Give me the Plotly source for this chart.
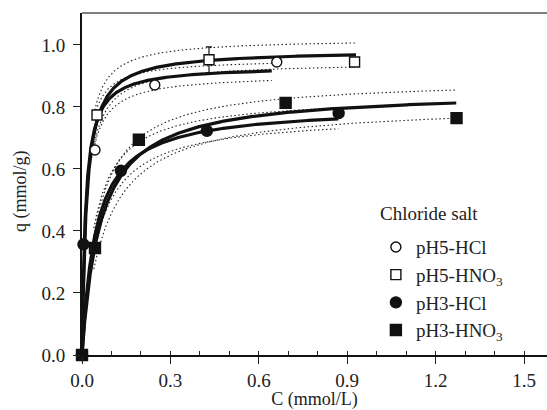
import numpy as np
import plotly.graph_objects as go

# Measured sorption data (C in mmol/L, q in mmol/g)
series_names = ["pH5-HCl", "pH5-HNO<sub>3</sub>", "pH3-HCl", "pH3-HNO<sub>3</sub>"]
legend_title = "Chloride salt"

C_pH5_HCl = [0.0, 0.044, 0.247, 0.661]
q_pH5_HCl = [0.0, 0.661, 0.871, 0.945]

C_pH5_HNO3 = [0.0, 0.051, 0.431, 0.925]
q_pH5_HNO3 = [0.0, 0.774, 0.952, 0.945]
err_pH5_HNO3 = [None, None, 0.042, None]

C_pH3_HCl = [0.0, 0.005, 0.132, 0.424, 0.871]
q_pH3_HCl = [0.0, 0.357, 0.594, 0.723, 0.780]

C_pH3_HNO3 = [0.0, 0.044, 0.193, 0.691, 1.271]
q_pH3_HNO3 = [0.0, 0.345, 0.694, 0.813, 0.764]

# Langmuir fit parameters (q = qmax*K*C / (1 + K*C)) and their confidence bounds
qmax_fit = [0.933, 0.984, 0.803, 0.853]
K_fit = [83.9, 65.0, 21.2, 15.9]
qmax_upper = [0.955, 1.020, 0.835, 0.890]
K_upper = [100.0, 80.0, 24.0, 19.0]
qmax_lower = [0.905, 0.945, 0.775, 0.810]
K_lower = [70.0, 62.0, 18.5, 13.0]
fit_C_end = [0.644, 0.930, 0.870, 1.270]
band_C_start = [0.040, 0.040, 0.040, 0.040]

x_ticks = [0.0, 0.3, 0.6, 0.9, 1.2, 1.5]
y_ticks = [0.0, 0.2, 0.4, 0.6, 0.8, 1.0]

FONT = "Liberation Serif, Times New Roman, serif"


def langmuir(c, qm, k):
    return qm * k * c / (1.0 + k * c)


def c_grid(c0, c1, n=500):
    # denser sampling near the origin where the isotherm is steep
    t = np.linspace(0.0, 1.0, n) ** 3
    return c0 + (c1 - c0) * t


fig = go.Figure()

# confidence bands (dotted)
for i in range(4):
    cb = c_grid(band_C_start[i], fit_C_end[i])
    for qm, k in ((qmax_upper[i], K_upper[i]), (qmax_lower[i], K_lower[i])):
        fig.add_trace(go.Scatter(
            x=cb, y=langmuir(cb, qm, k), mode="lines",
            line=dict(color="#222222", width=1.1, dash="1.5px,2.5px"),
            showlegend=False, hoverinfo="skip"))

# fitted isotherms (thick solid)
for i in range(4):
    cf = c_grid(0.0, fit_C_end[i])
    fig.add_trace(go.Scatter(
        x=cf, y=langmuir(cf, qmax_fit[i], K_fit[i]), mode="lines",
        line=dict(color="#111111", width=3.2),
        showlegend=False, hoverinfo="skip", cliponaxis=False))

marker_line = dict(color="#111111", width=1.4)
fig.add_trace(go.Scatter(
    x=C_pH5_HCl, y=q_pH5_HCl, mode="markers", name=series_names[0],
    marker=dict(symbol="circle", size=10, color="white", line=marker_line),
    cliponaxis=False))
fig.add_trace(go.Scatter(
    x=C_pH5_HNO3, y=q_pH5_HNO3, mode="markers", name=series_names[1],
    marker=dict(symbol="square", size=10, color="white", line=marker_line),
    error_y=dict(type="data", array=err_pH5_HNO3, color="#111111",
                 thickness=1.2, width=3),
    cliponaxis=False))
fig.add_trace(go.Scatter(
    x=C_pH3_HCl, y=q_pH3_HCl, mode="markers", name=series_names[2],
    marker=dict(symbol="circle", size=11, color="#111111", line=marker_line),
    cliponaxis=False))
fig.add_trace(go.Scatter(
    x=C_pH3_HNO3, y=q_pH3_HNO3, mode="markers", name=series_names[3],
    marker=dict(symbol="square", size=11, color="#111111", line=marker_line),
    cliponaxis=False))

# invisible trace on the overlay axis so the inside minor ticks get drawn
fig.add_trace(go.Scatter(x=[0.0], y=[0.0], xaxis="x2", mode="markers",
                         marker=dict(opacity=0), showlegend=False,
                         hoverinfo="skip"))

fig.update_layout(
    width=547, height=410,
    margin=dict(l=82, r=0, t=13, b=55),
    paper_bgcolor="white", plot_bgcolor="white",
    font=dict(family=FONT, size=19, color="#222222"),
    showlegend=True,
    legend=dict(
        x=0.632, y=0.371, xanchor="left", yanchor="top",
        bgcolor="rgba(0,0,0,0)", font=dict(family=FONT, size=19),
        itemwidth=30, tracegroupgap=0),
    xaxis=dict(
        range=[0.0, 1.578], tickvals=x_ticks,
        ticktext=[f"{v:.1f}" for v in x_ticks],
        ticks="outside", ticklen=7, tickwidth=1.3, tickcolor="#222222",
        showline=True, linecolor="#111111", linewidth=1.8,
        showgrid=False, zeroline=False,
        title=dict(text="C (mmol/L)", font=dict(family=FONT, size=18),
                   standoff=4)),
    xaxis2=dict(
        overlaying="x", matches="x", anchor="y", side="bottom",
        tickvals=[0.1 * k for k in range(16)],
        ticks="inside", ticklen=4, tickwidth=1.1, tickcolor="#222222",
        showticklabels=False, showgrid=False, zeroline=False, showline=False),
    yaxis=dict(
        range=[0.0, 1.103], tickvals=y_ticks,
        ticktext=[f"{v:.1f}" for v in y_ticks],
        ticks="outside", ticklen=7, tickwidth=1.3, tickcolor="#222222",
        ticklabelstandoff=4,
        showline=True, linecolor="#111111", linewidth=1.8,
        showgrid=False, zeroline=False),
    annotations=[
        dict(text=legend_title, xref="paper", yref="paper",
             x=0.6366, y=0.415, xanchor="left", yanchor="middle",
             showarrow=False, font=dict(family=FONT, size=19)),
        dict(text="q (mmol/g)", xref="paper", yref="paper",
             x=-0.131, y=0.48, xanchor="center", yanchor="middle",
             textangle=-90, showarrow=False,
             font=dict(family=FONT, size=18)),
    ],
    shapes=[dict(type="line", xref="paper", yref="paper", x0=0, x1=1,
                 y0=1, y1=1, line=dict(color="#555555", width=1.5))],
)

fig.write_html("out.html")
